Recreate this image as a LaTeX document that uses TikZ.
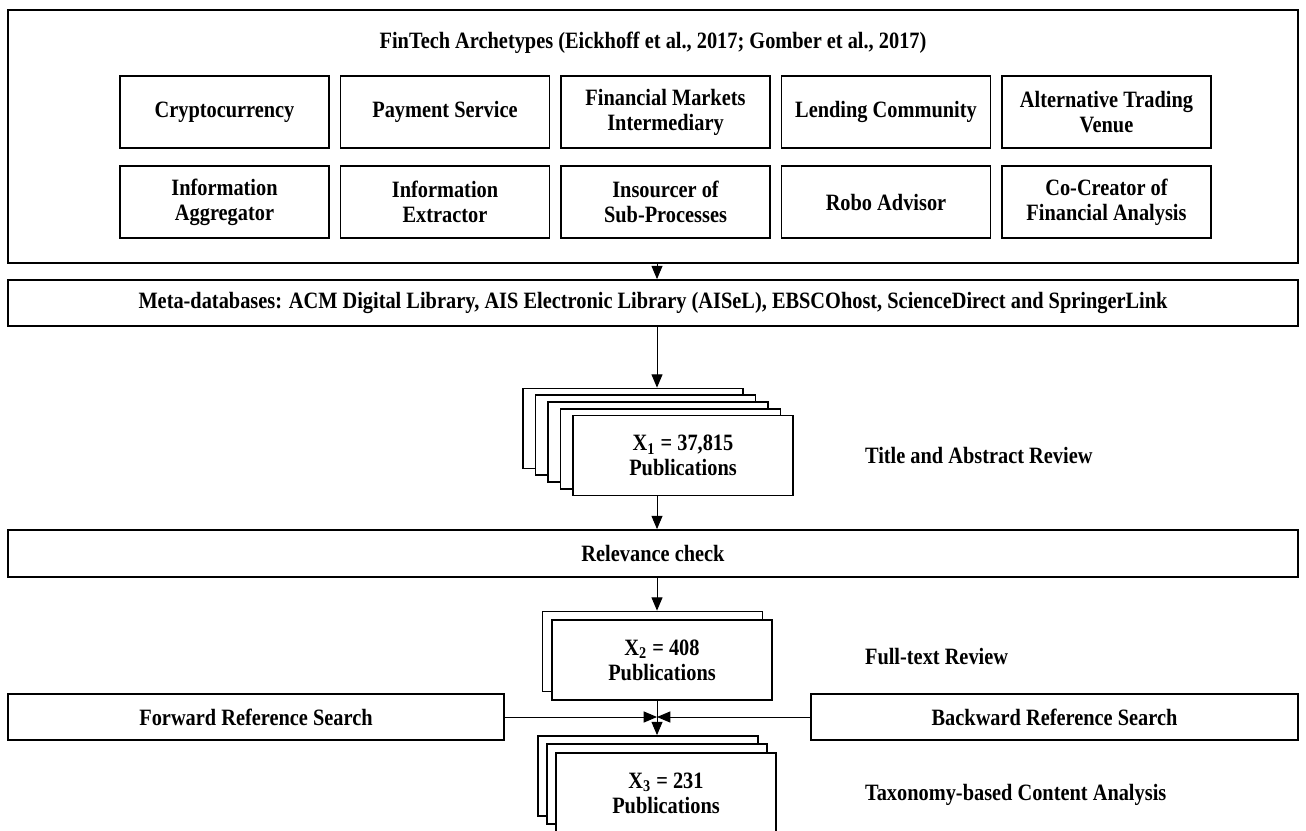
\documentclass[tikz,border=0pt]{standalone}
\usepackage{fontspec}
\setmainfont{Liberation Serif}[FakeStretch=0.87]
\usepackage{tikz}
\usetikzlibrary{arrows}
\usetikzlibrary{calc}
\usetikzlibrary{positioning}

\tikzset{
  every node/.style={font=\bfseries\fontsize{11.7}{12.5}\selectfont},
  archbox/.style={draw, line width=0.9pt, fill=white, align=center, minimum width=104.5pt, minimum height=36pt, inner sep=2pt},
  widebox/.style={draw, line width=0.9pt, fill=white, align=center, minimum height=23pt},
  pubbox/.style={draw, line width=0.9pt, fill=white, align=center, minimum width=110pt, minimum height=40pt},
  flow/.style={->, line width=0.5pt},
}

\begin{document}
\begin{tikzpicture}[x=0.5pt,y=-0.5pt,>=triangle 45]
      \clip (0,0) rectangle (1306,830);
      \fill[white] (0,0) rectangle (1306,830);

      \node[widebox, minimum width=645pt, minimum height=126.5pt] (arch) at (653,136.5) {};
      \node (archtitle) at (653,43) {FinTech Archetypes (Eickhoff et al., 2017; Gomber et al., 2017)};

      \node[archbox] (A1) at (224.5,112) {Cryptocurrency};
      \node[archbox] (A2) at (445,112)   {Payment Service};
      \node[archbox] (A3) at (665.5,112) {Financial Markets\\Intermediary};
      \node[archbox] (A4) at (886,112)   {Lending Community};
      \node[archbox] (A5) at (1106.5,112) {Alternative Trading\\Venue};

      \node[archbox] (B1) at (224.5,202) {Information\\Aggregator};
      \node[archbox] (B2) at (445,202)   {Information\\Extractor};
      \node[archbox] (B3) at (665.5,202) {Insourcer of\\Sub-Processes};
      \node[archbox] (B4) at (886,202)   {Robo Advisor};
      \node[archbox] (B5) at (1106.5,202) {Co-Creator of\\Financial Analysis};

      \node[widebox, minimum width=645pt] (meta) at (653,303) {Meta-databases: ACM Digital Library, AIS Electronic Library (AISeL), EBSCOhost, ScienceDirect and SpringerLink};

      \coordinate (spine) at (657,0);

      % first stack
      \node[pubbox] (x1a) at (633,428.5) {};
      \node[pubbox] (x1b) at (645.5,435.25) {};
      \node[pubbox] (x1c) at (658,442) {};
      \node[pubbox] (x1d) at (670.5,448.75) {};
      \node[pubbox] (x1e) at (683,455.5) {X\textsubscript{1} = 37,815\\Publications};
      \node[anchor=west] (titlerev) at (858,455) {Title and Abstract Review};

      \node[widebox, minimum width=645pt, minimum height=23.5pt] (rel) at (653,553.5) {Relevance check};

      % second stack
      \node[pubbox] (x2a) at (652.5,651.5) {};
      \node[pubbox] (x2b) at (662,660) {X\textsubscript{2} = 408\\Publications};
      \node[anchor=west] (fullrev) at (858,657) {Full-text Review};

      \node[widebox, minimum width=248pt] (fwd) at (256,717) {Forward Reference Search};
      \node[widebox, minimum width=243.5pt] (bwd) at (1054.5,717) {Backward Reference Search};
      \coordinate (meet) at (657,717);

      % third stack
      \node[pubbox] (x3a) at (648,776) {};
      \node[pubbox] (x3b) at (657,784) {};
      \node[pubbox] (x3c) at (666,793) {X\textsubscript{3} = 231\\Publications};
      \node[anchor=west] (taxrev) at (858,795) {Taxonomy-based Content Analysis};

      \draw[flow] (spine |- arch.south) -- (spine |- meta.north);
      \draw[flow] (spine |- meta.south) -- (spine |- x1a.north);
      \draw[flow] (spine |- x1e.south) -- (spine |- rel.north);
      \draw[flow] (spine |- rel.south) -- (spine |- x2a.north);
      \draw[flow] (spine |- x2b.south) -- (spine |- x3a.north);
      \draw[flow] (fwd.east) -- (meet);
      \draw[flow] (bwd.west) -- (meet);
\end{tikzpicture}
\end{document}
